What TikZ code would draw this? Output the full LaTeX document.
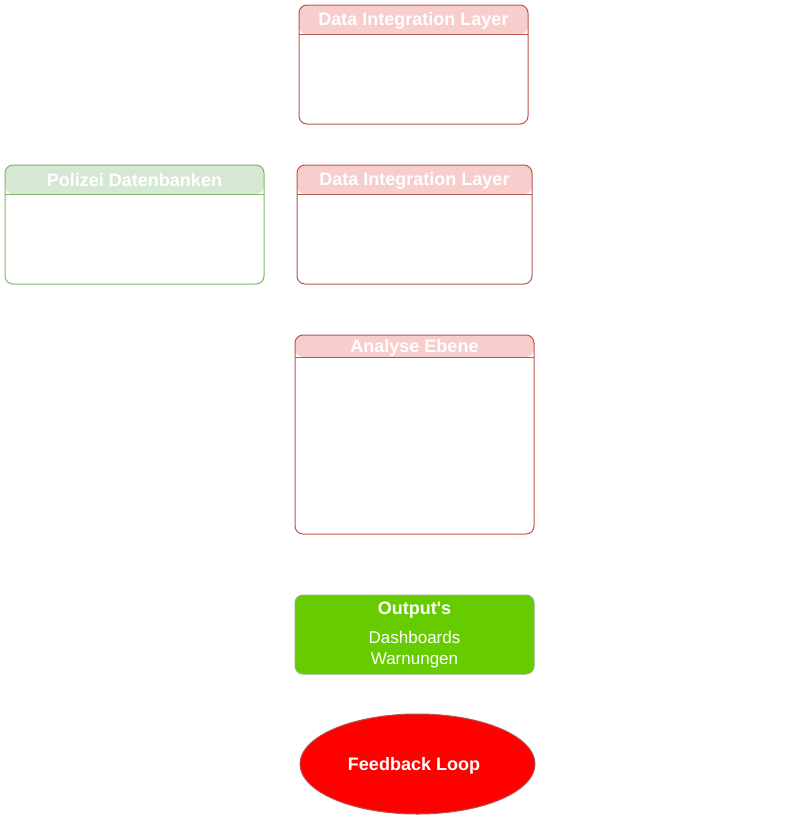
\documentclass[tikz,border=0pt]{standalone}
\usepackage{fontspec}
\setmainfont{Liberation Sans}
\usepackage{tikz}
\usetikzlibrary{calc,positioning,shapes.geometric}
\definecolor{redfill}{HTML}{F8CECC}
\definecolor{redline}{HTML}{B85450}
\definecolor{greenfill}{HTML}{D5E8D4}
\definecolor{greenline}{HTML}{82B366}
\definecolor{outfill}{HTML}{66CC00}
\definecolor{outline}{HTML}{8FB07A}

\begin{document}
\begin{tikzpicture}[x=1pt, y=-1pt,
    lane/.style n args={3}{draw=#2, line width=1pt, rectangle, rounded corners=8pt, inner sep=0pt,
      path picture={\fill[#1] (path picture bounding box.north west) rectangle ([yshift=-#3]path picture bounding box.north east);
        \draw[#2, line width=1pt] ([yshift=-#3]path picture bounding box.north west) -- ([yshift=-#3]path picture bounding box.north east);}},
    ttl/.style={text=white, inner sep=0pt, font=\bfseries\fontsize{18}{21.6}\selectfont},
    txt/.style={text=white, inner sep=0pt, font=\fontsize{17}{21}\selectfont}]
      \useasboundingbox (0,0) rectangle (796,822);

      \node[lane={redfill}{redline}{29pt}, minimum width=229pt, minimum height=119pt] (dil1) at (413.5,64.5) {};
      \node[lane={greenfill}{greenline}{29pt}, minimum width=259pt, minimum height=119pt] (pol) at (134.5,224.5) {};
      \node[lane={redfill}{redline}{29pt}, minimum width=235pt, minimum height=119pt] (dil2) at (414.5,224.5) {};
      \node[lane={redfill}{redline}{22pt}, minimum width=239pt, minimum height=199pt] (ana) at (414.5,434.5) {};
      \node[draw=outline, fill=outfill, line width=1pt, rounded corners=8pt, minimum width=239pt, minimum height=79pt] (out) at (414.5,634.5) {};
      \node[draw=redline, fill=red, ellipse, line width=1pt, minimum width=235pt, minimum height=100pt] (fb) at (417.5,764) {};

      \node[ttl] (dil1t) at ([yshift=-16pt]dil1.north) {Data Integration Layer};
      \node[ttl] (polt) at ([yshift=-16pt]pol.north) {Polizei Datenbanken};
      \node[ttl] (dil2t) at ([yshift=-16pt]dil2.north) {Data Integration Layer};
      \node[ttl] (anat) at ([yshift=-13pt]ana.north) {Analyse Ebene};
      \node[ttl] (outt) at ([yshift=-16pt]out.north) {Output\textquotesingle s};
      \node[txt, align=center] (outl) at ([yshift=-55.5pt]out.north) {Dashboards\\Warnungen};
      \node[ttl] (fbt) at ([xshift=-3.5pt,yshift=-2pt]fb.center) {Feedback Loop};
      \node[ttl] (rk) at (712,770) {Rückkopplung};
    \end{tikzpicture}
\end{document}
